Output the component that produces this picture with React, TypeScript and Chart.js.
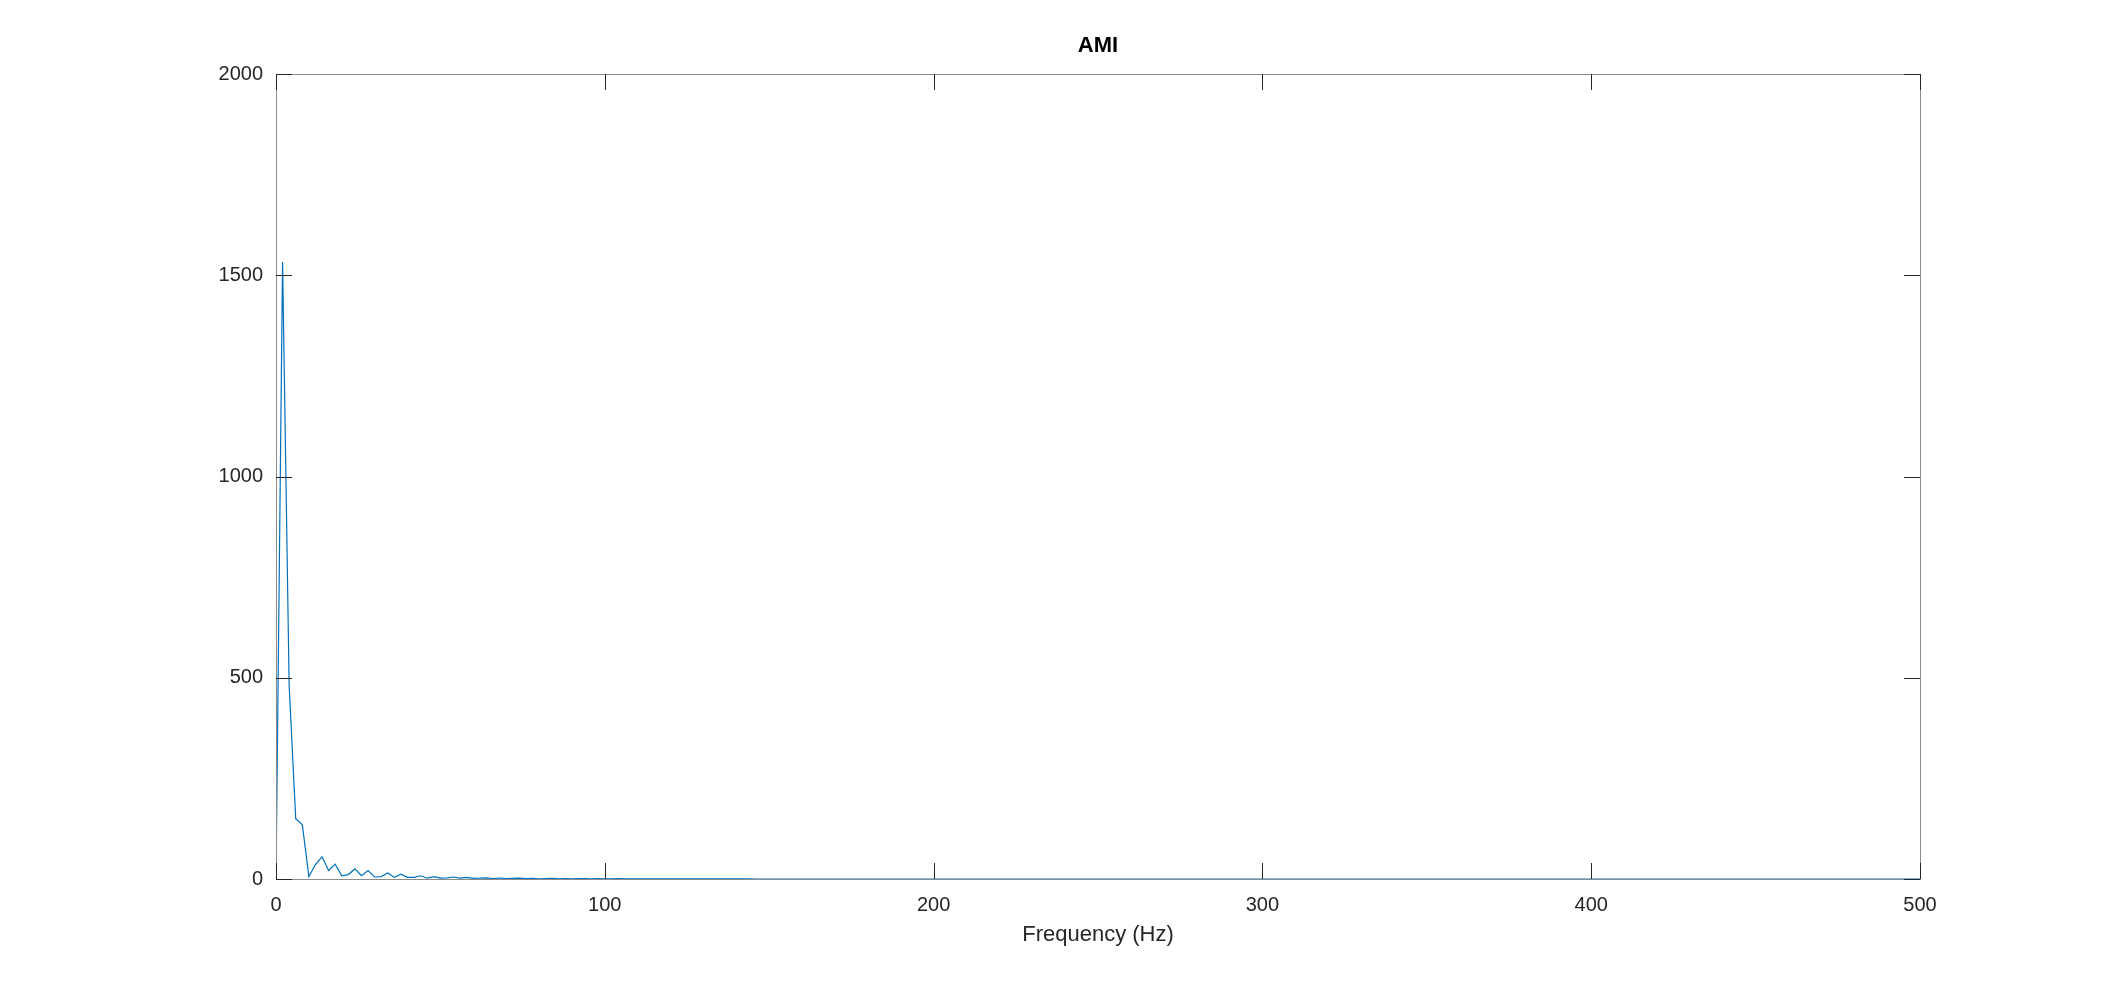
import { useEffect, useRef } from "react"
import Chart from "chart.js/auto"

// spectrum bins (Hz) and magnitudes; above ~146 Hz it stays at 0
const freqHz = [
  0, 2, 4, 6, 8, 10, 12, 14, 16, 18, 20, 22, 24, 26, 28, 30, 32, 34, 36, 38,
  40, 42, 44, 46, 48, 50, 52, 54, 56, 58, 60, 62, 64, 66, 68, 70, 72, 74, 76, 78,
  80, 82, 84, 86, 88, 90, 92, 94, 96, 98, 100, 102, 104, 106, 108, 110, 112, 114, 116, 118,
  120, 122, 124, 126, 128, 130, 132, 134, 136, 138, 140, 142, 144, 146, 148, 150, 500,
]
const magnitude = [
  0, 1533, 480, 150, 135, 6, 36, 55, 21, 37, 8, 11, 25, 8, 21, 5, 6, 15, 4, 12,
  4, 4, 8, 2, 6, 2, 3, 5, 2, 4, 1.5, 2, 3, 1, 2.5, 1, 1.5, 2, 0.8, 1.5,
  0.6, 1, 1.5, 0.5, 1, 0.4, 0.8, 1, 0.4, 0.8, 0.3, 0.6, 0.8, 0.3, 0.6, 0.3, 0.5, 0.6, 0.2, 0.5,
  0.2, 0.4, 0.5, 0.2, 0.4, 0.2, 0.3, 0.4, 0.1, 0.3, 0.1, 0.2, 0.3, 0, 0, 0, 0,
]
const xTicks = [0, 100, 200, 300, 400, 500]
const yTicks = [0, 500, 1000, 1500, 2000]

const titleText = "AMI"
const textColor = "#262626"

// octave-style box with inward ticks on all four sides, title centred over the axes
const boxPlugin = {
  id: "octaveBox",
  afterDraw(chart: any) {
    const { ctx, chartArea } = chart
    const { left, right, top, bottom } = chartArea
    const x = chart.scales.x
    const y = chart.scales.y
    const tl = 16
    ctx.save()
    ctx.lineWidth = 1
    ctx.strokeStyle = "#8c8c8c"
    ctx.strokeRect(left + 0.5, top + 0.5, right - left, bottom - top)
    ctx.strokeStyle = textColor
    ctx.beginPath()
    xTicks.forEach((v) => {
      const px = Math.round(x.getPixelForValue(v)) + 0.5
      ctx.moveTo(px, bottom)
      ctx.lineTo(px, bottom - tl)
      ctx.moveTo(px, top)
      ctx.lineTo(px, top + tl)
    })
    yTicks.forEach((v) => {
      const py = Math.round(y.getPixelForValue(v)) + 0.5
      ctx.moveTo(left, py)
      ctx.lineTo(left + tl, py)
      ctx.moveTo(right, py)
      ctx.lineTo(right - tl, py)
    })
    ctx.stroke()

    ctx.fillStyle = "#000"
    ctx.font = "bold 22px 'Liberation Sans'"
    ctx.textAlign = "center"
    ctx.textBaseline = "middle"
    ctx.fillText(titleText, (left + right) / 2, 46)
    ctx.restore()
  },
}

export default function App() {
  const canvasRef = useRef<HTMLCanvasElement>(null)
  const chartRef = useRef<Chart | null>(null)

  useEffect(() => {
    document.body.style.margin = "0"
    if (!canvasRef.current) return
    if (chartRef.current) chartRef.current.destroy()

    chartRef.current = new Chart(canvasRef.current, {
      type: "line",
      data: {
        datasets: [
          {
            label: titleText,
            data: freqHz.map((f, i) => ({ x: f, y: magnitude[i] })),
            borderColor: "#0072BD",
            borderWidth: 1.2,
            pointRadius: 0,
            fill: false,
            tension: 0,
          },
        ],
      },
      options: {
        animation: false,
        responsive: false,
        devicePixelRatio: 1,
        layout: { padding: { left: 0, right: 202, top: 74, bottom: 0 } },
        plugins: {
          legend: { display: false },
          tooltip: { enabled: false },
          title: { display: false },
        },
        scales: {
          x: {
            type: "linear",
            min: 0,
            max: 500,
            grid: { display: false, drawTicks: false },
            border: { display: false },
            afterBuildTicks: (scale: any) => {
              scale.ticks = xTicks.map((v) => ({ value: v }))
            },
            afterFit: (scale: any) => {
              scale.height = 108
            },
            ticks: {
              color: textColor,
              padding: 14,
              maxRotation: 0,
              font: { family: "Liberation Sans", size: 20 },
              callback: (v: any) => String(v),
            },
            title: {
              display: true,
              text: "Frequency (Hz)",
              color: textColor,
              font: { family: "Liberation Sans", size: 22 },
              padding: { top: 0, bottom: 38.8 },
            },
          },
          y: {
            type: "linear",
            min: 0,
            max: 2000,
            grid: { display: false, drawTicks: false },
            border: { display: false },
            afterBuildTicks: (scale: any) => {
              scale.ticks = yTicks.map((v) => ({ value: v }))
            },
            afterFit: (scale: any) => {
              scale.width = 276
            },
            ticks: {
              color: textColor,
              padding: 13,
              font: { family: "Liberation Sans", size: 20 },
              callback: (v: any) => String(v),
            },
          },
        },
      },
      plugins: [boxPlugin],
    })

    return () => {
      if (chartRef.current) {
        chartRef.current.destroy()
        chartRef.current = null
      }
    }
  }, [])

  return (
    <div style={{ width: 2122, height: 987, background: "#fff" }}>
      <canvas ref={canvasRef} width={2122} height={987} />
    </div>
  )
}
